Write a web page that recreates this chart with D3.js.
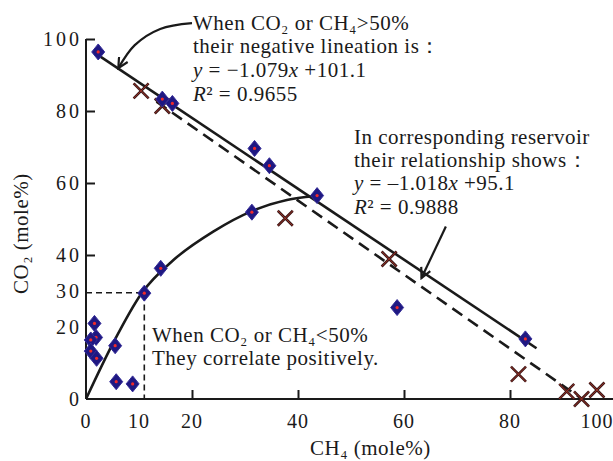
<!DOCTYPE html>
<html lang="en">
    <head>
        <meta charset="utf-8">
        <title>CO2 vs CH4</title>
        <script type="text/javascript" src="https://d3js.org/d3.v7.min.js"></script>
        <style type="text/css">
            body {
                margin: 0;
                background-color: #ffffff;
            }
            svg {
                display: block;
            }
            text {
                font-family: "Liberation Serif", "Times New Roman", serif;
                fill: #1a1a1a;
            }
            .note {
                font-size: 21px;
                letter-spacing: 0.5px;
            }
        </style>
    </head>
    <body>
        <svg width="613" height="461"></svg>
        <script type="text/javascript">

            // ---- data ----
            // measured samples (diamonds)
            const diamondCH4 = [2.3, 14.4, 16.3, 31.8, 34.6, 43.6, 31.3, 14.1, 11.0, 1.6, 1.9, 0.9, 0.9, 2.0, 5.5, 5.7, 8.8, 58.7, 82.9];
            const diamondCO2 = [96.4, 83.3, 82.1, 69.6, 64.8, 56.5, 51.9, 36.3, 29.4, 21.0, 17.1, 16.4, 13.3, 11.3, 14.8, 4.8, 4.2, 25.4, 16.7];

            // reservoir samples (crosses)
            const crossCH4 = [10.4, 14.4, 37.6, 57.2, 81.6, 90.7, 93.5, 96.4];
            const crossCO2 = [85.6, 81.4, 50.2, 38.9, 6.9, 2.1, 0.0, 2.5];

            // trend lines
            const solidCH4 = [2.3, 85.0];
            const solidCO2 = [95.5, 14.1];
            const dashCH4 = [13.3, 93.6];
            const dashCO2 = [82.6, 0.0];
            const curveCH4 = [0, 5.2, 10.5, 16.5, 24, 31.3, 37.9, 43.0];
            const curveCO2 = [0, 15.8, 29.4, 38.6, 46.5, 52.2, 55.3, 56.3];

            // the 30% guide
            const guideCH4 = 11.0;
            const guideCO2 = 29.5;

            // tick labels
            const xLabels = [0, 10, 20, 40, 60, 80, 100];
            const yLabels = [0, 20, 30, 40, 60, 80, 100];
            const xTicks = [20, 40, 60, 80];
            const yTicks = [40, 60, 80, 100];

            const svg = d3.select("svg");
            const W = 613;

            const x = d3.scaleLinear().domain([0, 100]).range([86, 616]);
            const y = d3.scaleLinear().domain([0, 100]).range([399, 39]);

            // ---- axes ----
            svg.append("g")
                .attr("transform", "translate(0," + y(0) + ")")
                .call(d3.axisBottom(x).tickValues(xTicks).tickSize(-9).tickFormat(""))
                .call(g => g.select(".domain").remove())
                .selectAll("line").attr("stroke", "#1a1a1a").attr("stroke-width", 2);

            svg.append("g")
                .attr("transform", "translate(" + x(0) + ",0)")
                .call(d3.axisLeft(y).tickValues(yTicks).tickSize(-9).tickFormat(""))
                .call(g => g.select(".domain").remove())
                .selectAll("line").attr("stroke", "#1a1a1a").attr("stroke-width", 2);

            // axis lines
            svg.append("line")
                .attr("x1", x(0)).attr("x2", W)
                .attr("y1", y(0)).attr("y2", y(0))
                .attr("stroke", "#1a1a1a").attr("stroke-width", 2);
            svg.append("line")
                .attr("x1", x(0)).attr("x2", x(0))
                .attr("y1", y(0)).attr("y2", y(100))
                .attr("stroke", "#1a1a1a").attr("stroke-width", 2);

            // tick labels (100 is pulled in so it fits)
            svg.selectAll("text.xl")
                .data(xLabels)
                .enter()
                .append("text")
                .attr("class", "xl")
                .attr("x", d => Math.min(x(d), W - 16))
                .attr("y", 428)
                .attr("text-anchor", "middle")
                .attr("font-size", 20)
                .attr("letter-spacing", 1)
                .text(d => d);

            svg.selectAll("text.yl")
                .data(yLabels)
                .enter()
                .append("text")
                .attr("class", "yl")
                .attr("x", 82)
                .attr("y", d => y(d) + 7)
                .attr("text-anchor", "end")
                .attr("font-size", 20)
                .attr("letter-spacing", 3)
                .text(d => d);

            // axis titles
            svg.append("text")
                .attr("x", 310).attr("y", 455)
                .attr("font-size", 21)
                .attr("letter-spacing", 0.5)
                .text("CH₄ (mole%)");

            svg.append("text")
                .attr("transform", "translate(28,294) rotate(-90)")
                .attr("font-size", 21)
                .attr("letter-spacing", 0.5)
                .text("CO₂ (mole%)");

            // ---- guide lines ----
            svg.append("path")
                .attr("d", d3.line()([[x(0), y(guideCO2)], [x(guideCH4), y(guideCO2)], [x(guideCH4), y(0)]]))
                .attr("fill", "none")
                .attr("stroke", "#1a1a1a")
                .attr("stroke-width", 1.6)
                .attr("stroke-dasharray", "6,4");

            // ---- trend lines ----
            const line = d3.line().x(d => x(d[0])).y(d => y(d[1]));

            svg.append("path")
                .attr("d", line(d3.zip(dashCH4, dashCO2)))
                .attr("fill", "none")
                .attr("stroke", "#1a1a1a")
                .attr("stroke-width", 2.6)
                .attr("stroke-dasharray", "12,7");

            svg.append("path")
                .attr("d", line(d3.zip(solidCH4, solidCO2)))
                .attr("fill", "none")
                .attr("stroke", "#1a1a1a")
                .attr("stroke-width", 2.6);

            svg.append("path")
                .attr("d", line.curve(d3.curveMonotoneX)(d3.zip(curveCH4, curveCO2)))
                .attr("fill", "none")
                .attr("stroke", "#1a1a1a")
                .attr("stroke-width", 2.6);

            // ---- crosses ----
            const crosses = svg.selectAll("g.cross")
                .data(d3.zip(crossCH4, crossCO2))
                .enter()
                .append("g")
                .attr("class", "cross")
                .attr("transform", d => "translate(" + x(d[0]) + "," + y(d[1]) + ")");
            const xPath = "M-7.5,-7.5L7.5,7.5M-7.5,7.5L7.5,-7.5";
            crosses.append("path").attr("d", xPath).attr("stroke", "#3a1818").attr("stroke-width", 2.6);
            crosses.append("path").attr("d", xPath).attr("stroke", "#c23a2a").attr("stroke-width", 0.7);

            // ---- diamonds ----
            const diamonds = svg.selectAll("g.dia")
                .data(d3.zip(diamondCH4, diamondCO2))
                .enter()
                .append("g")
                .attr("class", "dia")
                .attr("transform", d => "translate(" + x(d[0]) + "," + y(d[1]) + ")");
            diamonds.append("path")
                .attr("d", "M0,-8L6.5,0L0,8L-6.5,0Z")
                .attr("fill", "#1f1882")
                .attr("stroke", "#342c98")
                .attr("stroke-width", 1);
            diamonds.append("circle")
                .attr("r", 1.6)
                .attr("fill", "#f02a2a");

            // ---- arrows ----
            svg.append("defs").append("marker")
                .attr("id", "head")
                .attr("viewBox", "-12 -6 14 12")
                .attr("markerWidth", 14)
                .attr("markerHeight", 12)
                .attr("markerUnits", "userSpaceOnUse")
                .attr("orient", "auto")
                .append("path")
                .attr("d", "M-10,-5L0,0L-10,5")
                .attr("fill", "none")
                .attr("stroke", "#1a1a1a")
                .attr("stroke-width", 2.2);

            const arrow1 = [[20, 104.4], [14, 102.8], [9.2, 98.3], [6.1, 91.9]];
            const arrow2 = [[67.9, 47.9], [63.3, 33.6]];

            svg.append("path")
                .attr("d", d3.line().x(d => x(d[0])).y(d => y(d[1])).curve(d3.curveCatmullRom)(arrow1))
                .attr("fill", "none")
                .attr("stroke", "#1a1a1a")
                .attr("stroke-width", 2.2)
                .attr("marker-end", "url(#head)");

            svg.append("path")
                .attr("d", line.curve(d3.curveLinear)(arrow2))
                .attr("fill", "none")
                .attr("stroke", "#1a1a1a")
                .attr("stroke-width", 2.2)
                .attr("marker-end", "url(#head)");

            // ---- notes ----
            function note(px, py, parts) {
                const t = svg.append("text").attr("class", "note").attr("x", px).attr("y", py);
                parts.forEach(p => {
                    const s = t.append("tspan").text(p[0]);
                    if (p[1] === "i") s.attr("font-style", "italic");
                });
            }

            note(193, 30, [["When CO₂ or CH₄>50%"]]);
            note(193, 53, [["their negative lineation is："]]);
            note(193, 77, [["y", "i"], [" = −1.079"], ["x", "i"], [" +101.1"]]);
            note(193, 101, [["R", "i"], ["² = 0.9655"]]);

            note(354, 144, [["In corresponding reservoir"]]);
            note(354, 167, [["their relationship shows："]]);
            note(354, 190, [["y", "i"], [" = –1.018"], ["x", "i"], [" +95.1"]]);
            note(354, 214, [["R", "i"], ["² = 0.9888"]]);

            note(152, 342, [["When CO₂ or CH₄<50%"]]);
            note(152, 365, [["They correlate positively."]]);

        </script>
    </body>
</html>
